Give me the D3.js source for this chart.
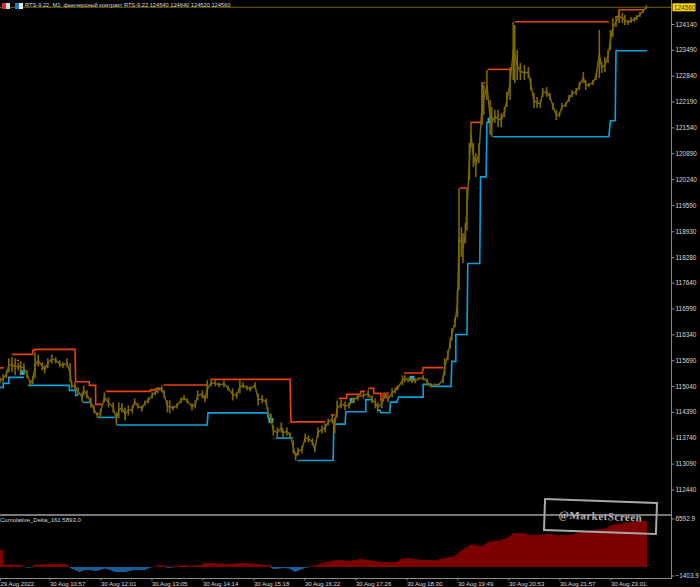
<!DOCTYPE html>
<html><head><meta charset="utf-8">
<script src="https://cdnjs.cloudflare.com/ajax/libs/d3/7.8.5/d3.min.js"></script>
<style>html,body{margin:0;padding:0;background:#000;overflow:hidden}svg{display:block}
text{font-family:"Liberation Sans",Arial,sans-serif}</style></head><body>
<svg id="c" width="700" height="587"></svg>
<script>
const titleText="RTS-9.22, M1:  фьючерсный контракт RTS-9.22  124540 124640 124520 124560";
const deltaTitle="Cumulative_Delta_161 5893.0";
const watermark="@MarketScreen";
const lastPrice=124560;
const priceTicks=[124140,123490,122840,122190,121540,120890,120240,119590,118930,118280,117640,116990,116340,115690,115040,114390,113740,113090,112440];
const deltaTicks=[6592.9,-1403.9];
const timeBars=[0,62,126,190,254,318,382,446,510,574,638,702,766];
const timeLabels=["29 Aug 2022","30 Aug 10:57","30 Aug 12:01","30 Aug 13:05","30 Aug 14:14","30 Aug 15:18","30 Aug 16:22","30 Aug 17:26","30 Aug 18:30","30 Aug 19:49","30 Aug 20:53","30 Aug 21:57","30 Aug 23:01"];

const priceBars=[0,4,8,11,15,19,23,26,30,34,38,41,44,48,53,56,60,65,70,75,79,84,88,90,94,98,103,105,109,114,118,122,126,131,136,142,146,149,153,157,161,166,169,173,178,182,186,191,195,198,203,206,210,213,217,222,227,231,235,241,245,248,254,257,260,265,270,275,281,286,292,297,301,305,310,314,320,324,329,334,336,340,343,348,353,355,360,364,368,371,374,379,383,387,392,395,399,404,408,412,417,420,423,428,433,438,443,449,456,462,467,471,474,479,483,487,492,496,499,505,508,512,517,521,525,531,536,540,546,551,556,558,562,565,567,571,574,576,579,581,584,586,589,591,594,597,601,605,607,611,615,617,621,625,629,633,636,640,644,646,649,653,658,663,666,670,674,678,681,686,690,694,698,702,705,710,714,718,723,727,732,735,739,744,748,752,755,759,763,766,769,773,777,781,784,788,792,796,799,803,807,811];
const priceHigh=[115259,115334,115435,115737,115762,115737,115636,115661,115611,115435,115183,115284,115888,115837,115636,115560,115737,115837,115762,115686,115636,115737,115611,115133,115133,115007,114881,115057,114932,114755,114554,114378,114479,114881,114755,114630,114378,114630,114605,114504,114554,114554,114730,114605,114554,114680,114755,114881,114982,115007,115057,114932,114680,114680,114554,114605,114755,114806,114730,114605,114680,114932,114932,114806,115183,115208,115183,115133,115183,115057,114982,114881,115183,115133,115057,115032,115133,114856,114806,114730,114504,114353,114051,114001,114126,113976,114001,113875,113674,113372,113497,113548,113850,113800,113724,113548,114001,114051,114101,114227,114303,114252,114680,114705,114655,114630,114755,114856,114881,114932,114806,114730,114630,114730,114856,114806,114982,115007,115057,115309,115309,115259,115234,115234,115259,115309,115234,115108,115108,115108,115309,115737,115938,116265,116491,116768,117448,120014,119033,118882,119134,120014,121146,121674,121146,120894,121146,122656,122605,122983,122228,122052,121976,121976,121901,122052,122429,123058,124190,124115,123486,123159,123109,123058,122782,122404,122304,122228,122530,122555,122404,122153,121976,121926,122153,122178,122354,122480,122530,122681,122932,122731,122656,122731,122907,123989,123184,123310,123486,123989,124291,124316,124492,124417,124367,124241,124316,124316,124367,124442,124518,124618];
const priceLow=[115108,115133,115234,115384,115384,115309,115435,115384,115384,115234,115057,115082,115234,115535,115435,115359,115485,115611,115611,115510,115485,115510,115133,114982,114932,114806,114630,114806,114730,114504,114353,114252,114252,114630,114504,114378,114051,114227,114378,114177,114303,114353,114554,114479,114403,114554,114605,114730,114806,114856,114881,114730,114378,114353,114428,114479,114605,114680,114605,114428,114479,114680,114730,114630,114730,115032,115032,115007,115007,114932,114680,114730,114856,114982,114932,114906,114982,114554,114605,114554,114303,114101,113800,113724,113875,113749,113800,113749,113347,113170,113296,113347,113624,113624,113548,113372,113749,113850,113875,114051,114101,113850,114252,114479,114428,114479,114605,114680,114730,114755,114605,114479,114378,114479,114730,114630,114755,114856,114932,115057,115133,115133,115108,115108,115183,115183,115057,115007,115032,115057,115108,115309,115686,115988,116190,116516,116768,117448,118278,118127,118630,118957,120215,121045,120542,120291,120643,121599,121851,122228,121347,121297,121649,121549,121549,121800,122052,122228,122731,122656,122731,122731,122731,122782,122480,122027,122027,122027,122304,122304,122228,121976,121725,121800,121976,122052,122178,122304,122354,122480,122656,122480,122555,122605,122731,122782,122907,122932,123159,123486,123813,124065,124165,124165,124115,124115,124165,124190,124241,124316,124417,124518];

const upperStart=[0,21,15,41,44,95,112,120,133,189,196,205,264,365,415,425,435,453,462,469,478,481,497,507,531,565,570,577,591,605,612,646,772,777];
const upperEnd=[5,24,41,44,94,112,120,129,189,195,202,261,364,408,420,435,452,458,469,478,481,488,500,530,556,566,572,587,605,609,641,764,776,809];
const upperPrice=[115497,115686,115837,115938,115963,115147,115057,114579,114906,114944,114982,115067,115208,114139,114315,114730,114831,114906,114982,114856,114680,114856,115007,115367,115503,116014,116718,120014,121667,122656,123000,124198,124324,124500];

const lowerStart=[0,4,11,35,87,95,104,122,147,261,337,346,373,419,434,459,474,478,490,500,531,542,567,572,587,603,611,619,766,773];
const lowerEnd=[4,11,30,87,95,98,113,144,260,335,341,368,418,433,459,467,477,489,498,531,541,566,572,586,602,610,615,764,772,812];
const lowerPrice=[115007,115108,115259,115057,114932,114806,114630,114252,114063,114366,114227,113732,113170,114083,114395,114698,114428,114370,114637,114763,115083,115032,115661,116334,118119,120298,121667,121305,121707,123468];

const markerBars=[28,340,442,517,615];
const markerPrices=[115384,114177,114680,115234,121725];
const redMarkerBars=[483];
const redMarkerPrices=[114805];

const cdBars=[0,4,5,6,12,19,25,31,34,38,44,50,56,62,68,75,82,87,88,94,100,107,113,119,126,132,138,144,151,157,163,169,176,182,188,191,195,201,207,211,220,226,232,239,245,251,257,264,276,289,301,314,326,339,343,351,358,364,370,377,383,389,396,408,414,421,427,439,452,464,477,489,498,502,514,527,546,558,571,577,590,596,603,609,615,628,640,644,659,665,678,690,699,715,734,747,759,768,784,803,812];
const cdValues=[2180,2180,320,320,350,320,300,0,-100,-60,320,380,380,380,400,400,380,60,-130,-380,-640,-380,-380,-510,-380,-190,-380,-640,-640,-640,-510,-380,-380,-380,-130,0,130,260,190,-130,130,190,260,130,190,260,510,510,450,380,510,450,380,190,-260,-190,-130,-260,-640,-380,-130,60,260,640,700,900,900,800,1020,900,640,640,600,1020,1150,930,860,1150,1410,2010,2850,2850,2650,2960,3290,3420,3930,4350,4350,4060,4130,4260,4060,4130,4570,4770,4900,5410,5670,5890,5930];

const svg=d3.select("#c");
svg.append("rect").attr("width",700).attr("height",587).attr("fill","#000");
const x=d3.scaleLinear().domain([0,842]).range([0,671]);
const y=d3.scaleLinear().domain([112440,124140]).range([489.5,24]);
const yd=d3.scaleLinear().domain([-1403.9,6592.9]).range([578,515.5]);
const GOLD="#7d6900",ORANGE="#e8420c",BLUE="#06a2dc",GREY="#8c8c8c",TXT="#d8d8d8";

svg.append("line").attr("x1",0).attr("x2",671).attr("y1",y(lastPrice)).attr("y2",y(lastPrice)).attr("stroke","#6e6000").attr("stroke-width",1);

function runs(st,en,pr){
  const out=[];let cur=[];
  st.forEach((s,i)=>{
    if(cur.length&&Math.abs(s-cur[cur.length-1][0])>2){out.push(cur);cur=[];}
    cur.push([s,pr[i]],[en[i],pr[i]]);
  });
  if(cur.length)out.push(cur);
  return out;
}
const sl=d3.line().x(d=>x(d[0])).y(d=>y(d[1]));
function drawSteps(st,en,pr,col){
  svg.append("g").selectAll("path").data(runs(st,en,pr)).join("path")
    .attr("d",sl).attr("fill","none").attr("stroke",col).attr("stroke-width",1.6);
}
drawSteps(upperStart,upperEnd,upperPrice,ORANGE);
drawSteps(lowerStart,lowerEnd,lowerPrice,BLUE);

svg.append("g").selectAll("rect").data(markerBars).join("rect")
  .attr("x",d=>x(d)-2.5).attr("y",(d,i)=>y(markerPrices[i])-2.5).attr("width",5).attr("height",5).attr("fill","#35a8b0");
svg.append("g").selectAll("rect").data(redMarkerBars).join("rect")
  .attr("x",d=>x(d)-2.5).attr("y",(d,i)=>y(redMarkerPrices[i])-2.5).attr("width",5).attr("height",5).attr("fill","#b5300c");

// price: high-low bars joined by a mid line
svg.append("g").attr("stroke",GOLD).attr("stroke-width",1.6).selectAll("line").data(priceBars).join("line")
  .attr("x1",d=>x(d)).attr("x2",d=>x(d))
  .attr("y1",(d,i)=>y(priceHigh[i])).attr("y2",(d,i)=>y(priceLow[i]));
const mids=priceBars.map((b,i)=>[b,(priceHigh[i]+priceLow[i])/2]);
svg.append("path").attr("d",sl(mids)).attr("fill","none").attr("stroke",GOLD).attr("stroke-width",1.4);

svg.append("line").attr("x1",0).attr("x2",672).attr("y1",515).attr("y2",515).attr("stroke","#a0a0a0").attr("stroke-width",1.4);

const pts=cdBars.map((b,i)=>[b,cdValues[i]]);
svg.append("path").datum(pts).attr("d",d3.area().x(d=>x(d[0])).y0(yd(0)).y1(d=>yd(Math.max(0,d[1])))).attr("fill","#7d0000");
svg.append("path").datum(pts).attr("d",d3.area().x(d=>x(d[0])).y0(yd(0)).y1(d=>yd(Math.min(0,d[1])))).attr("fill","#1a5c96");

function style(g,fs){
  g.select(".domain").attr("stroke",GREY);
  g.selectAll(".tick line").attr("stroke",GREY);
  g.selectAll("text").attr("fill",TXT).attr("font-size",fs).attr("font-family",'"Liberation Sans",Arial,sans-serif');
}
const ga=svg.append("g").attr("transform","translate(671.5,0)")
  .call(d3.axisRight(y).tickValues(priceTicks).tickFormat(d3.format("d")).tickSize(3).tickPadding(1).tickSizeOuter(0));
ga.call(style,6.4);ga.select(".domain").attr("d","M0,0V579");
const gd=svg.append("g").attr("transform","translate(671.5,0)")
  .call(d3.axisRight(yd).tickValues(deltaTicks).tickFormat(d3.format(".1f")).tickSize(3).tickPadding(1).tickSizeOuter(0));
gd.call(style,6.4);gd.select(".domain").remove();
gd.selectAll(".tick").attr("transform",d=>`translate(0,${d>0?519:576})`);

const gx=svg.append("g").attr("transform","translate(0,578.5)")
  .call(d3.axisBottom(x).tickValues(timeBars).tickFormat((d,i)=>timeLabels[i]).tickSize(2).tickPadding(1).tickSizeOuter(0));
gx.call(style,6);
gx.select(".domain").attr("d","M0,0H672");
gx.selectAll("text").attr("text-anchor","start").attr("x",0).attr("dy","0.7em");

svg.append("rect").attr("x",672.5).attr("y",y(lastPrice)-4).attr("width",23).attr("height",8).attr("fill","#ffd400");
svg.append("text").attr("x",674).attr("y",y(lastPrice)+2.4).attr("font-size",6.4).attr("fill","#333").text(lastPrice);

svg.append("text").attr("x",25).attr("y",7).attr("font-size",5.7).attr("fill",TXT).text(titleText);
[[2,"#d8d8e8","#d03020"],[15,"#e8e8f0","#1878d0"]].forEach(([px,a,b])=>{
  svg.append("rect").attr("x",px).attr("y",3).attr("width",8).attr("height",6).attr("fill",a);
  svg.append("rect").attr("x",px).attr("y",3).attr("width",4).attr("height",6).attr("fill",b);
});
svg.append("text").attr("x",0).attr("y",522).attr("font-size",6).attr("fill",TXT).text(deltaTitle);

const wm=svg.append("g").attr("transform","translate(600.5,516.5) rotate(2)");
wm.append("rect").attr("x",-56).attr("y",-15.5).attr("width",112).attr("height",31).attr("fill","none").attr("stroke","#a8a8a8").attr("stroke-width",2);
wm.append("text").attr("text-anchor","middle").attr("y",3.5).attr("font-size",11).attr("font-weight","bold").attr("letter-spacing",0.5)
  .attr("style",'font-family:"Liberation Serif",serif').attr("fill","#b4b4b4").text(watermark);
</script></body></html>
